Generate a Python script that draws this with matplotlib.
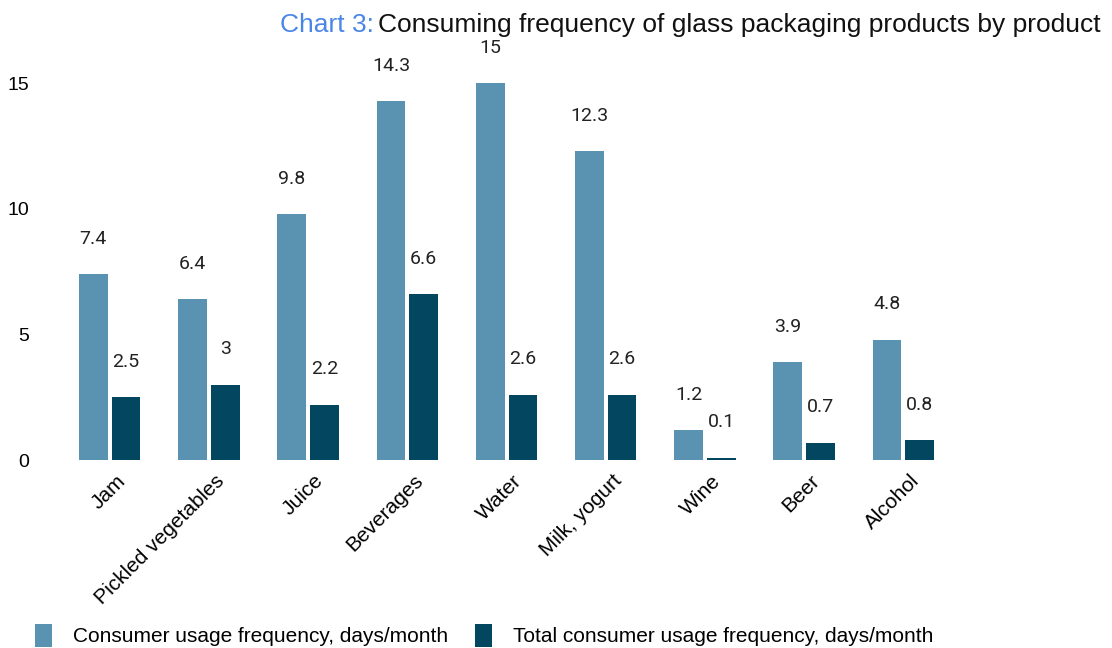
import numpy as np
import matplotlib.pyplot as plt

products = ["Jam", "Pickled vegetables", "Juice", "Beverages", "Water",
            "Milk, yogurt", "Wine", "Beer", "Alcohol"]
usage = [7.4, 6.4, 9.8, 14.3, 15, 12.3, 1.2, 3.9, 4.8]
total_usage = [2.5, 3, 2.2, 6.6, 2.6, 2.6, 0.1, 0.7, 0.8]
labels = ["Consumer usage frequency, days/month",
          "Total consumer usage frequency, days/month"]

light = "#5a93b1"
dark = "#02465f"

fig = plt.figure(figsize=(11.12, 6.48), dpi=100)
ax = fig.add_axes([0.054, 0.29, 0.803, 0.62])

x = np.arange(len(products))
w = 0.29
b1 = ax.bar(x - 0.165, usage, w, color=light, label=labels[0])
b2 = ax.bar(x + 0.165, total_usage, w, color=dark, label=labels[1])

for bars, vals in [(b1, usage), (b2, total_usage)]:
    for r, v in zip(bars, vals):
        ax.annotate(f"{v:g}", (r.get_x() + r.get_width() / 2, v),
                    xytext=(0, 19), textcoords="offset points",
                    ha="center", va="bottom", fontsize=14,
                    family="Roboto", color="#222222", annotation_clip=False)

ax.set_xlim(-0.5, len(products) - 0.5)
ax.set_ylim(0, 16)
ax.set_yticks([0, 5, 10, 15])
ax.set_xticks(x + 0.06)
ax.set_xticklabels(products, rotation=45, ha="right", rotation_mode="anchor",
                   fontsize=15, family="Liberation Sans")
for t in ax.get_yticklabels():
    t.set_fontsize(14)
    t.set_family("Liberation Sans")
ax.tick_params(length=0)
ax.tick_params(axis="y", pad=22)
ax.tick_params(axis="x", pad=8)
for s in ax.spines.values():
    s.set_visible(False)

# title split in two colours, right aligned
t2 = fig.text(0.99, 0.962, "Consuming frequency of glass packaging products by product",
              ha="right", va="center", fontsize=19, family="Liberation Sans",
              color="#111111")
fig.canvas.draw()
bb = t2.get_window_extent()
fig.text(bb.x0 / fig.bbox.width - 0.004, 0.962, "Chart 3:", ha="right", va="center",
         fontsize=19, family="Liberation Sans", color="#4a86e8")

fig.legend(handles=[b1, b2], labels=labels, loc="lower left",
           bbox_to_anchor=(0.015, -0.027), ncol=2, frameon=False,
           prop={"family": "Liberation Sans", "size": 15},
           handlelength=0.8, handleheight=1.3, handletextpad=1.0,
           columnspacing=1.3)

fig.savefig("out.png", dpi=100)
